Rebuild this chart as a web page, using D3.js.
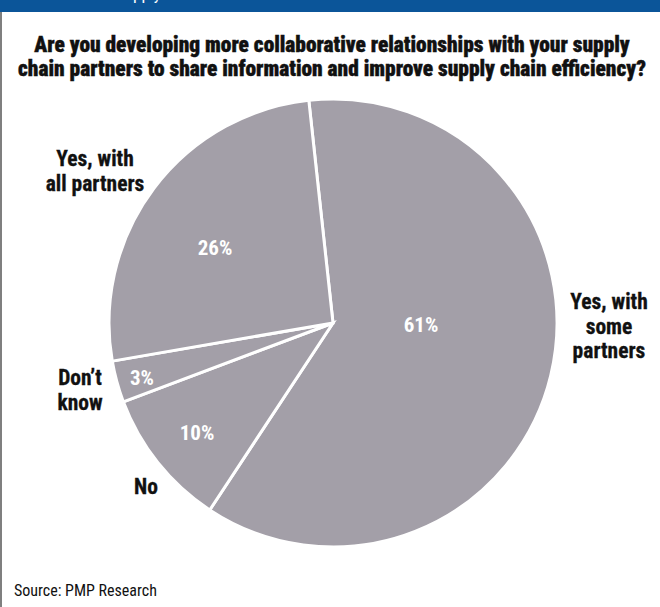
<!DOCTYPE html>
<html>
<head>
<meta charset="utf-8">
<script src="https://cdn.jsdelivr.net/npm/d3@7"></script>
<style>
  html, body { margin: 0; padding: 0; background: #fff; }
  svg { display: block; }
</style>
</head>
<body>
<svg id="chart" width="660" height="607"></svg>
<script>
// ---- data ----
const categories = ["Yes, with some partners", "No", "Don\u2019t know", "Yes, with all partners"];
const values = [61, 10, 3, 26];
const pctLabels = ["61%", "10%", "3%", "26%"];
const labelLines = [["Yes, with", "some", "partners"], ["No"], ["Don\u2019t", "know"], ["Yes, with", "all partners"]];
const titleLines = [
  "Are you developing more collaborative relationships with your supply",
  "chain partners to share information and improve supply chain efficiency?"
];
const sourceText = "Source: PMP Research";

// ---- layout ----
const W = 660, H = 607;
const cx = 333, cy = 323, R = 224;
const startDeg = -6.2;
const pctPos = [[88, 2], [-136, 110], [-191, 55], [-118, -75]];            // offsets from centre
const labelPos = [[609, 302], [146, 487], [80, 378], [95, 159]];            // first-line centres
const FONT = '"Liberation Sans Narrow", "Roboto Condensed", "DejaVu Sans Condensed", "Liberation Sans", sans-serif';

const svg = d3.select("#chart");

// top bar
svg.append("rect").attr("x", 0).attr("y", 0).attr("width", W).attr("height", 12).attr("fill", "#0b5599");
svg.append("clipPath").attr("id", "barclip").append("rect").attr("x", 0).attr("y", 0).attr("width", W).attr("height", 12);
svg.append("text").attr("clip-path", "url(#barclip)")
  .attr("x", 116).attr("y", 0).attr("fill", "#fff")
  .style("font-family", FONT).style("font-size", "17px").text("Supply");

// left border
svg.append("line").attr("x1", 1).attr("x2", 1).attr("y1", 12).attr("y2", H)
  .attr("stroke", "#555").attr("stroke-width", 1.5);

// title
svg.append("g").selectAll("text").data(titleLines).join("text")
  .attr("x", 332).attr("y", (d, i) => 52 + i * 24)
  .attr("text-anchor", "middle")
  .style("font-family", FONT).style("font-weight", "900").style("font-size", "21.4px")
  .attr("fill", "#111").attr("stroke", "#111").attr("stroke-width", 0.4)
  .text(d => d);

// pie
const pie = d3.pie().sort(null).value(d => d)
  .startAngle(startDeg * Math.PI / 180)
  .endAngle(startDeg * Math.PI / 180 + 2 * Math.PI);
const arc = d3.arc().innerRadius(0).outerRadius(R);
const arcs = pie(values);

const g = svg.append("g").attr("transform", `translate(${cx},${cy})`);
g.selectAll("path").data(arcs).join("path")
  .attr("d", arc)
  .attr("fill", "#a39fa8")
  .attr("stroke", "#fff").attr("stroke-width", 3).attr("stroke-linejoin", "miter");

g.selectAll("text.pct").data(arcs).join("text").attr("class", "pct")
  .attr("x", (d, i) => pctPos[i][0]).attr("y", (d, i) => pctPos[i][1] + 7)
  .attr("text-anchor", "middle")
  .style("font-family", FONT).style("font-weight", "700").style("font-size", "21px")
  .attr("fill", "#fff")
  .text((d, i) => pctLabels[i]);

// category labels
const lg = svg.append("g");
categories.forEach((c, i) => {
  lg.append("text")
    .attr("x", labelPos[i][0]).attr("y", labelPos[i][1] + 7)
    .attr("text-anchor", "middle")
    .style("font-family", FONT).style("font-weight", "700").style("font-size", "21.5px")
    .attr("fill", "#111").attr("stroke", "#111").attr("stroke-width", 0.3)
    .selectAll("tspan").data(labelLines[i]).join("tspan")
    .attr("x", labelPos[i][0]).attr("dy", (d, j) => j === 0 ? 0 : 24.5)
    .text(d => d);
});

// source
svg.append("text").attr("x", 14).attr("y", 596)
  .style("font-family", FONT).style("font-size", "16px").attr("fill", "#111")
  .text(sourceText);
</script>
</body>
</html>
